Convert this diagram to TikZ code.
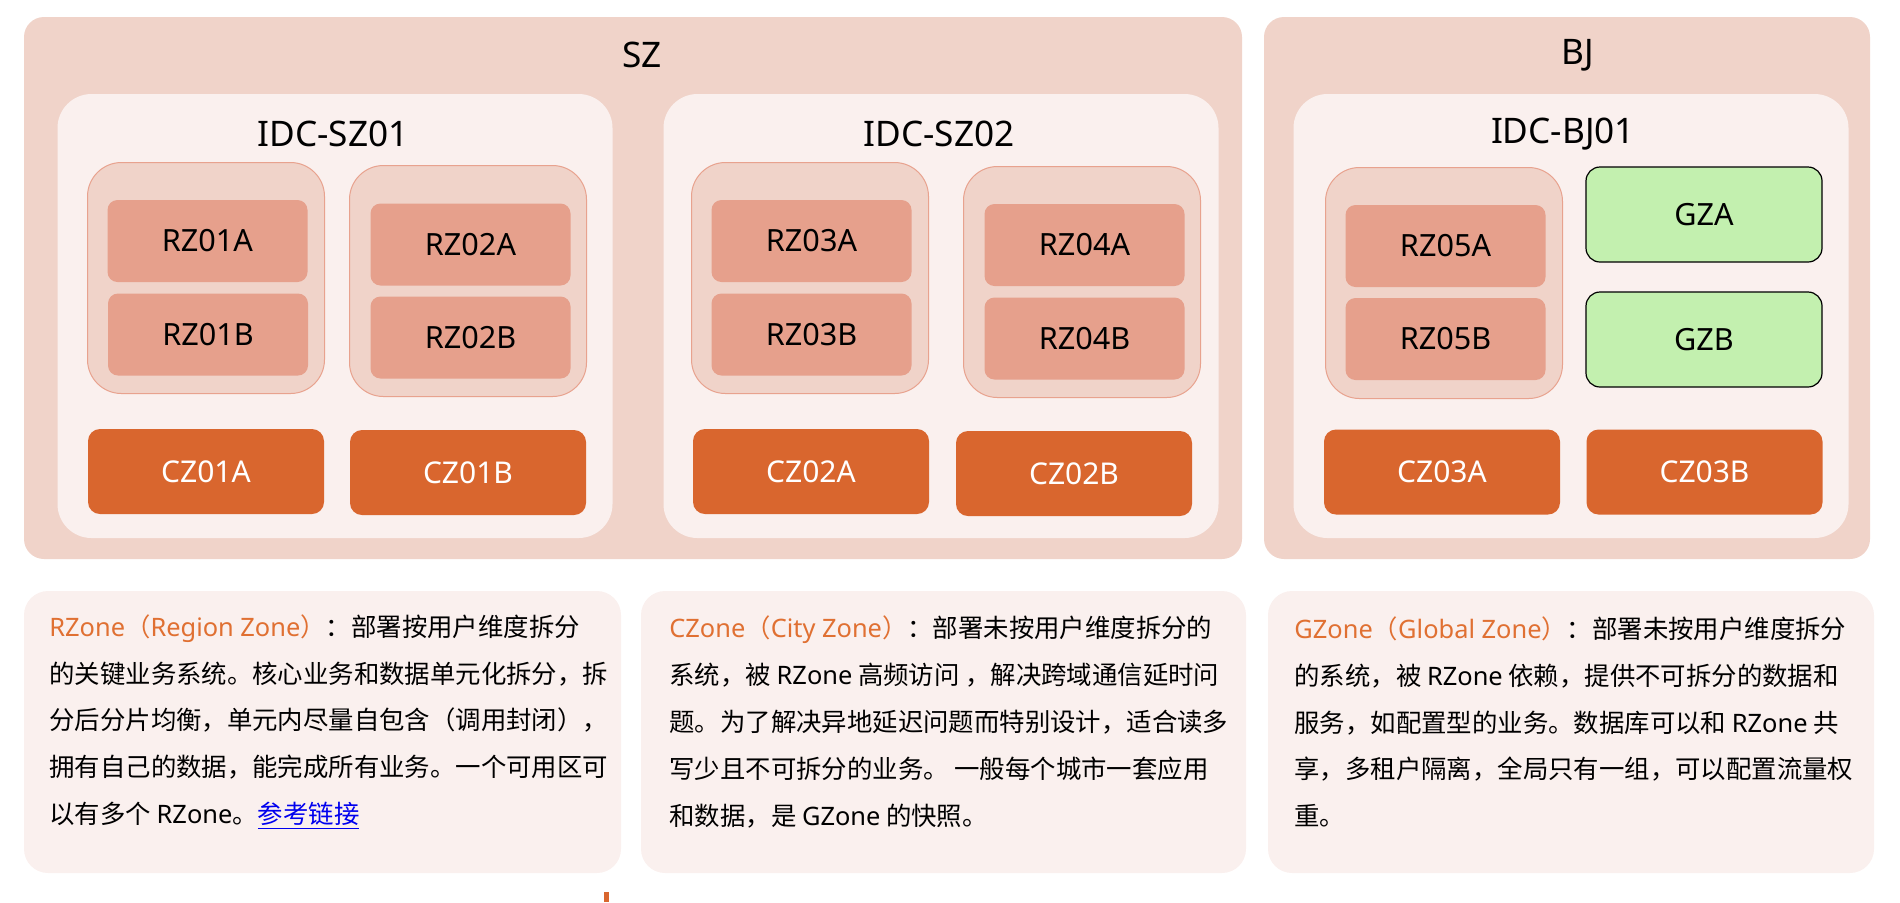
\documentclass[tikz,border=0pt]{standalone}
\usepackage{fontspec}
\setmainfont{Noto Sans CJK SC}
\newfontfamily\latfont{Noto Sans}
\usepackage{xcolor}
\usetikzlibrary{positioning}
\definecolor{regionbg}{RGB}{240,211,201}
\definecolor{idcbg}{RGB}{250,240,238}
\definecolor{rzline}{RGB}{232,162,142}
\definecolor{rzfill}{RGB}{230,160,140}
\definecolor{czfill}{RGB}{217,102,46}
\definecolor{gzfill}{RGB}{195,240,175}
\definecolor{zoneorange}{RGB}{224,112,50}
\definecolor{linkblue}{RGB}{0,0,238}
\newcommand{\lat}[1]{{\latfont #1}}
\newcommand{\zonename}[2]{\textcolor{zoneorange}{\lat{#1}（\lat{#2}）}}

\begin{document}
\begin{tikzpicture}[
    x=0.5pt, y=-0.5pt,
    region/.style={fill=regionbg, rounded corners=10pt, minimum width=#1, minimum height=271pt, inner sep=0pt},
    idc/.style={fill=idcbg, rounded corners=17pt, minimum width=277.5pt, minimum height=222pt, inner sep=0pt},
    rzgroup/.style={draw=rzline, line width=0.5pt, fill=regionbg, rounded corners=17pt, minimum width=118.5pt, minimum height=115.5pt, inner sep=0pt},
    rz/.style={fill=rzfill, rounded corners=5pt, minimum width=100pt, minimum height=41pt, inner sep=0pt, font=\latfont\fontsize{15.3}{18}\selectfont},
    cz/.style={fill=czfill, rounded corners=6pt, minimum width=118pt, minimum height=42.5pt, inner sep=0pt, text=white, font=\latfont\fontsize{15}{18}\selectfont},
    gz/.style={draw=black, line width=0.6pt, fill=gzfill, rounded corners=7pt, minimum width=118pt, minimum height=47.5pt, inner sep=0pt, font=\latfont\fontsize{15.3}{18}\selectfont},
    title/.style={font=\latfont\fontsize{17.6}{20}\selectfont, inner sep=0pt},
    note/.style={fill=idcbg, rounded corners=12pt, minimum height=141pt, inner sep=0pt},
    notetext/.style={anchor=west, align=left, inner sep=0pt, font=\fontsize{12.7}{23.4}\selectfont}
]
\useasboundingbox (0,0) rectangle (1900,902);

\node[region=609pt] (sz) at (633,288) {};
\node[region=303pt] (bj) at (1567,288) {};
\node[title] (sztitle) at (642,55) {SZ};
\node[title] (bjtitle) at (1578,55) {BJ};

\node[idc] (idcsz1) at (335,316) {};
\node[idc] (idcsz2) at (941,316) {};
\node[idc] (idcbj1) at (1571,316) {};
\node[title] (idcsz1title) at (333,134) {IDC-SZ01};
\node[title] (idcsz2title) at (939,134) {IDC-SZ02};
\node[title] (idcbj1title) at (1563,134) {IDC-BJ01};

\node[rzgroup] (grp1) at (206,278) {};
\node[rzgroup] (grp2) at (468,281) {};
\node[rzgroup] (grp3) at (810,278) {};
\node[rzgroup] (grp4) at (1082,282) {};
\node[rzgroup] (grp5) at (1444,283) {};

\node[rz] (rz01a) at (207.5,241) {RZ01A};
\node[rz] (rz01b) at (208,334.5) {RZ01B};
\node[rz] (rz02a) at (470.5,244.5) {RZ02A};
\node[rz] (rz02b) at (470.5,337.5) {RZ02B};
\node[rz] (rz03a) at (811.5,241) {RZ03A};
\node[rz] (rz03b) at (811.5,334.5) {RZ03B};
\node[rz] (rz04a) at (1084.5,245) {RZ04A};
\node[rz] (rz04b) at (1084.5,338.5) {RZ04B};
\node[rz] (rz05a) at (1445.5,246) {RZ05A};
\node[rz] (rz05b) at (1445.5,339) {RZ05B};

\node[gz] (gza) at (1704,214.5) {GZA};
\node[gz] (gzb) at (1704,339.5) {GZB};

\node[cz] (cz01a) at (206,471.5) {CZ01A};
\node[cz] (cz01b) at (468,472.5) {CZ01B};
\node[cz] (cz02a) at (811,471.5) {CZ02A};
\node[cz] (cz02b) at (1074,473.5) {CZ02B};
\node[cz] (cz03a) at (1442,472) {CZ03A};
\node[cz] (cz03b) at (1704.5,472) {CZ03B};

\node[note, minimum width=298.5pt] (rnote) at (322.5,732) {};
\node[note, minimum width=302.5pt] (cnote) at (943.5,732) {};
\node[note, minimum width=303pt] (gnote) at (1571,732) {};

\node[notetext] (rtext) at (49,722) {\zonename{RZone}{Region Zone}：部署按用户维度拆分\\
的关键业务系统。核心业务和数据单元化拆分，拆\\
分后分片均衡，单元内尽量自包含（调用封闭），\\
拥有自己的数据，能完成所有业务。一个可用区可\\
以有多个 \lat{RZone}。\textcolor{linkblue}{\underline{参考链接}}};
\node[notetext] (ctext) at (669,722) {\zonename{CZone}{City Zone}：部署未按用户维度拆分的\\
系统，被 \lat{RZone} 高频访问 ，解决跨域通信延时问\\
题。为了解决异地延迟问题而特别设计，适合读多\\
写少且不可拆分的业务。 一般每个城市一套应用\\
和数据，是 \lat{GZone} 的快照。};
\node[notetext] (gtext) at (1294,722) {\zonename{GZone}{Global Zone}：部署未按用户维度拆分\\
的系统，被 \lat{RZone} 依赖，提供不可拆分的数据和\\
服务，如配置型的业务。数据库可以和 \lat{RZone} 共\\
享，多租户隔离，全局只有一组，可以配置流量权\\
重。};

\fill[czfill] (604,892) rectangle (609,902);
\end{tikzpicture}
\end{document}
